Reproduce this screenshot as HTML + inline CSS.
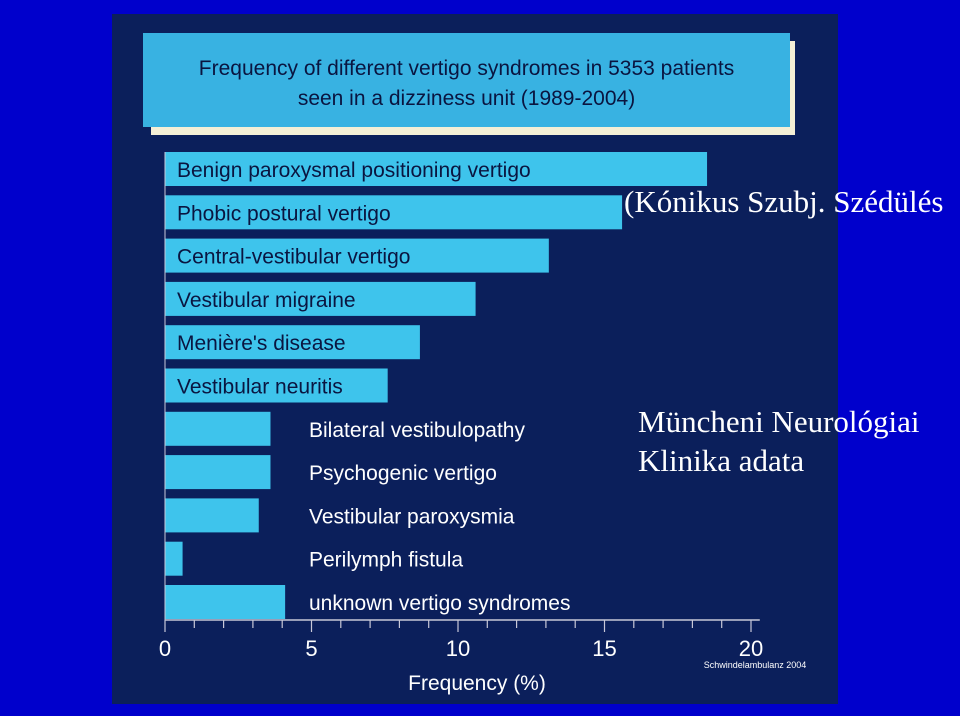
<!DOCTYPE html>
<html><head><meta charset="utf-8"><style>
html,body{margin:0;padding:0;}
body{width:960px;height:716px;background:#0000cc;position:relative;overflow:hidden;font-family:"Liberation Sans",sans-serif;}
#panel{position:absolute;left:112px;top:14px;width:726px;height:690px;background:#0b1f5b;}
.t{position:absolute;white-space:nowrap;}
</style></head><body>
<div id="panel"></div>
<div style="position:absolute;left:151px;top:41px;width:644px;height:94px;background:#f4efd6;"></div>
<div style="position:absolute;left:143px;top:33px;width:647px;height:94px;background:#38b2e2;"></div>
<div class="t" style="left:143px;top:54px;width:647px;text-align:center;font-size:21px;line-height:30px;color:#0a1540;">Frequency of different vertigo syndromes in 5353 patients<br>seen in a dizziness unit (1989-2004)</div>
<svg id="chart" width="960" height="716" style="position:absolute;left:0;top:0"></svg>
<div class="t" style="left:624px;top:184px;font-family:'Liberation Serif',serif;font-size:31px;color:#fff;">(Kónikus Szubj. Szédülés</div>
<div class="t" style="left:638px;top:402px;font-family:'Liberation Serif',serif;font-size:31px;line-height:39px;color:#fff;">Müncheni Neurológiai<br>Klinika adata</div>
<script>
const categories=["Benign paroxysmal positioning vertigo","Phobic postural vertigo","Central-vestibular vertigo","Vestibular migraine","Menière's disease","Vestibular neuritis","Bilateral vestibulopathy","Psychogenic vertigo","Vestibular paroxysmia","Perilymph fistula","unknown vertigo syndromes"];
const values=[18.5,15.6,13.1,10.6,8.7,7.6,3.6,3.6,3.2,0.6,4.1];
const tickLabels=["0","5","10","15","20"];
const tickValues=[0,5,10,15,20];
const NS="http://www.w3.org/2000/svg";
const svg=document.getElementById('chart');
const x0=165,pxPerUnit=29.3;
function xs(v){return x0+v*pxPerUnit;}
function ys(i){return 152+i*43.3;}
const bh=34;
function mk(tag,attrs){const e=document.createElementNS(NS,tag);for(const k in attrs)e.setAttribute(k,attrs[k]);svg.appendChild(e);return e;}
categories.forEach((c,i)=>{
  const r=mk('rect',{x:xs(0),y:ys(i),width:xs(values[i])-xs(0),height:bh,fill:'#3ec4ec'});
  
  
  const inside=i<6;
  const lx=inside?177:309;
  const t=mk('text',{x:lx,y:ys(i)+bh/2+8,fill:inside?'#0a1540':'#ffffff','font-size':21,'font-family':'Liberation Sans, sans-serif'});
  t.textContent=c;
  
  
});
const axisY=620;
const ax=mk('line',{x1:xs(0),y1:axisY,x2:xs(20.3),y2:axisY,stroke:'#c8c8d8','stroke-width':1.5});


const yax=mk('line',{x1:xs(0),y1:152,x2:xs(0),y2:axisY+8,stroke:'#c8c8d8','stroke-width':1});


for(let v=0;v<=20;v++){
  const major=v%5===0;
  const tk=mk('line',{x1:xs(v),y1:axisY,x2:xs(v),y2:axisY+(major?12:8),stroke:'#c8c8d8','stroke-width':1.2});
  
  
}
tickValues.forEach((v,i)=>{
  const t=mk('text',{x:xs(v),y:656,fill:'#fff','font-size':22,'text-anchor':'middle','font-family':'Liberation Sans, sans-serif'});
  t.textContent=tickLabels[i];
  
  
});
const xt=mk('text',{x:477,y:690,fill:'#fff','font-size':21,'text-anchor':'middle','font-family':'Liberation Sans, sans-serif'});
xt.textContent='Frequency (%)';


const src=mk('text',{x:755,y:668,fill:'#fff','font-size':9,'text-anchor':'middle','font-family':'Liberation Sans, sans-serif'});
src.textContent='Schwindelambulanz 2004';


</script>
</body></html>
